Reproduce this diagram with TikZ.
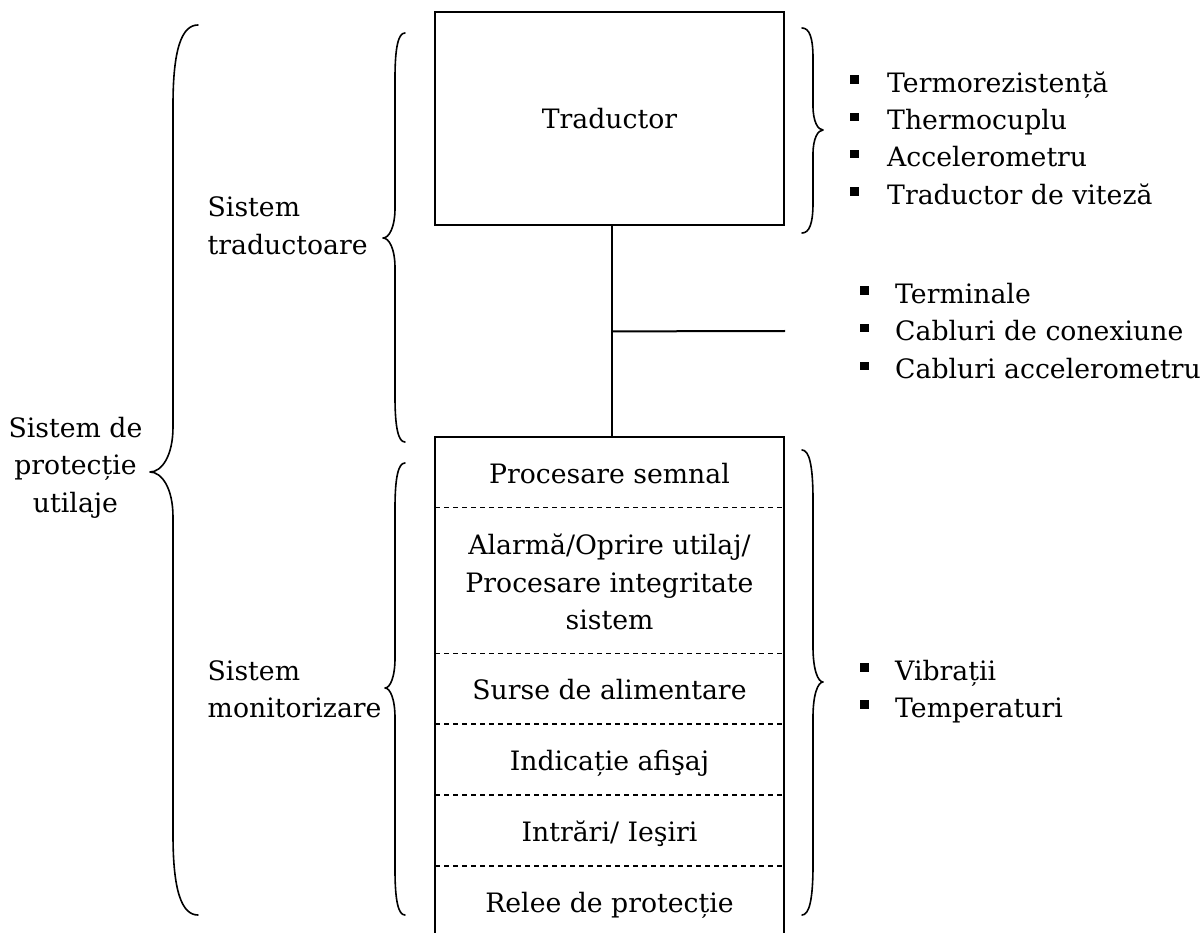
\documentclass[tikz,border=0pt]{standalone}
\usepackage{fontspec}
\setmainfont{DejaVu Serif}
\usetikzlibrary{calc}
\tikzset{
  txt/.style={inner sep=0pt, font=\fontsize{26.7}{37.5}\selectfont},
  lbl/.style={txt, anchor=base west},
  ctr/.style={txt, anchor=base},
  boxline/.style={line width=2pt},
  sepline/.style={line width=1.6pt, dash pattern=on 5pt off 4pt},
  bracestyle/.style={line width=1.6pt, line join=round, line cap=round},
}
\newcommand{\blt}[1][37pt]{\makebox[#1][l]{\rule[8.5pt]{8.5pt}{8.5pt}}}
% #1 end x, #2 spine x, #3 tip x, #4 top y, #5 tip y, #6 bottom y, #7 end radius, #8 tip radius
\newcommand{\wordbrace}[8]{%
  \draw[bracestyle] (#1,#4) .. controls ({#2+0.35*(#1-#2)},#4) and (#2,{#4+0.3*#7}) .. (#2,{#4+#7})
    -- (#2,{#5-#8}) .. controls (#2,{#5-0.35*#8}) and ({#3+0.5*(#2-#3)},#5) .. (#3,#5)
    .. controls ({#3+0.5*(#2-#3)},#5) and (#2,{#5+0.35*#8}) .. (#2,{#5+#8})
    -- (#2,{#6-#7}) .. controls (#2,{#6-0.3*#7}) and ({#2+0.35*(#1-#2)},#6) .. (#1,#6);}
\begin{document}
\begin{tikzpicture}[x=1pt,y=-1pt]
\useasboundingbox (0,0) rectangle (1200,933);

% boxes
\node[draw, boxline, txt, minimum width=349pt, minimum height=213pt] (trad) at (609.5,118.5) {Traductor};
\node[inner sep=0pt, minimum width=349pt, minimum height=496pt] (mon) at (609.5,685) {};
\draw[boxline] (mon.south west) -- (mon.north west) -- (mon.north east) -- (mon.south east);

% connectors
\coordinate (cabend) at (785,331);
\draw[boxline] ([xshift=2.5pt]trad.south) -- ([xshift=2.5pt]mon.north) coordinate[pos=0.5] (tap);
\draw[boxline] (tap) -- (cabend);

% separators inside monitoring box
\draw[sepline, line width=1.4pt] (435,507.5) -- (784,507.5);
\draw[sepline, line width=1.4pt] (435,653.5) -- (784,653.5);
\draw[sepline, line width=2pt] (435,724) -- (784,724);
\draw[sepline, line width=1.4pt] (435,795) -- (784,795);
\draw[sepline, line width=2pt] (435,866) -- (784,866);

% monitoring box texts
\node[ctr] (m1) at (609.5,483) {Procesare semnal};
\node[ctr] (m2a) at (609.5,554.5) {Alarmă/Oprire utilaj/};
\node[ctr] (m2b) at (609.5,592) {Procesare integritate};
\node[ctr] (m2c) at (609.5,629.5) {sistem};
\node[ctr] (m3) at (609.5,699) {Surse de alimentare};
\node[ctr] (m4) at (609.5,770) {Indicație afişaj};
\node[ctr] (m5) at (609.5,841.5) {Intrări/ Ieşiri};
\node[ctr] (m6) at (609.5,912) {Relee de protecție};

% left labels
\node[ctr] (sp1) at (75.5,437) {Sistem de};
\node[ctr] (sp2) at (75.5,474.5) {protecție};
\node[ctr] (sp3) at (75.5,512) {utilaje};
\node[lbl] (st1) at (207.5,217) {Sistem};
\node[lbl] (st2) at (207.5,255) {traductoare};
\node[lbl] (sm1) at (207.5,680) {Sistem};
\node[lbl] (sm2) at (207.5,717) {monitorizare};

% braces
\wordbrace{198}{173}{150}{25}{472}{915}{80}{45}
\wordbrace{405}{395}{383}{33}{238}{442}{45}{30}
\wordbrace{405}{395}{385}{463}{688}{915}{45}{30}
\wordbrace{802}{813}{823}{28}{130}{233}{30}{24}
\wordbrace{802}{813}{823}{450}{682}{915}{50}{35}

% right lists
\node[lbl] (r1) at (850,92.5) {\blt Termorezistență};
\node[lbl] (r2) at (850,130) {\blt Thermocuplu};
\node[lbl] (r3) at (850,167) {\blt Accelerometru};
\node[lbl] (r4) at (850,204.5) {\blt Traductor de viteză};
\node[lbl] (c1) at (860,303.5) {\blt[35pt]Terminale};
\node[lbl] (c2) at (860,341) {\blt[35pt]Cabluri de conexiune};
\node[lbl] (c3) at (860,378.5) {\blt[35pt]Cabluri accelerometru};
\node[lbl] (v1) at (860,680) {\blt[35pt]Vibrații};
\node[lbl] (v2) at (860,717) {\blt[35pt]Temperaturi};
\end{tikzpicture}
\end{document}
